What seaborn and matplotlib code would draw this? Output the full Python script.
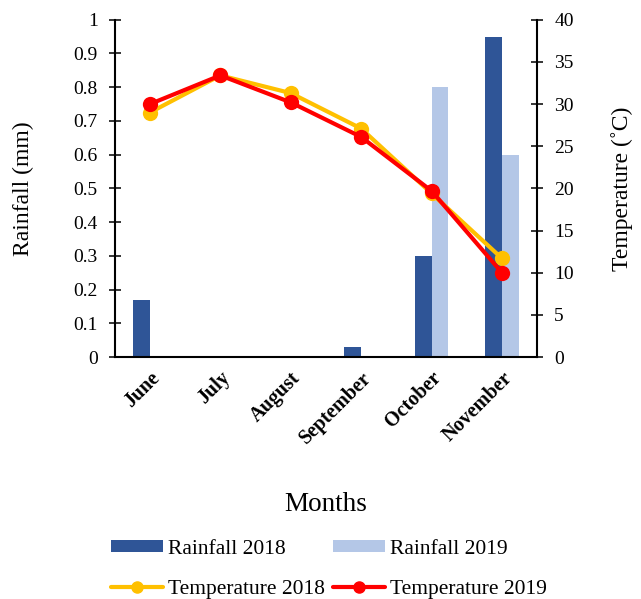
import numpy as np
import pandas as pd
import matplotlib
matplotlib.use("Agg")
import matplotlib.pyplot as plt
import seaborn as sns
from matplotlib.patches import Patch
from matplotlib.lines import Line2D

months = ["June", "July", "August", "September", "October", "November"]
rain_2018 = [0.17, 0.0, 0.0, 0.03, 0.30, 0.95]
rain_2019 = [0.0, 0.0, 0.0, 0.0, 0.80, 0.60]
temp_2018 = [29.0, 33.4, 31.3, 27.1, 19.4, 11.7]
temp_2019 = [30.0, 33.4, 30.2, 26.1, 19.7, 10.0]

sns.set_theme(style="white")
plt.rcParams['font.family'] = ['Liberation Serif', 'DejaVu Serif']
plt.rcParams.update({'text.color': 'black', 'axes.labelcolor': 'black',
                     'xtick.color': 'black', 'ytick.color': 'black'})

c_r18, c_r19 = "#2F5597", "#B4C7E7"
c_t18, c_t19 = "#FFC000", "#FF0000"

rain_df = pd.DataFrame({
    "Month": months * 2,
    "Rainfall": rain_2018 + rain_2019,
    "Series": ["Rainfall 2018"] * 6 + ["Rainfall 2019"] * 6,
})
temp_df = pd.DataFrame({
    "Month": months * 2,
    "Temp": temp_2018 + temp_2019,
    "Series": ["Temperature 2018"] * 6 + ["Temperature 2019"] * 6,
})

fig = plt.figure(figsize=(6.41, 5.99), dpi=100)
ax = fig.add_axes([0.179, 0.404, 0.659, 0.563])
sns.barplot(data=rain_df, x="Month", y="Rainfall", hue="Series", order=months,
            palette=[c_r18, c_r19], width=0.48, ax=ax, legend=False,
            edgecolor="none", saturation=1)
ax.set_ylim(0, 1)
ax.set_xlim(-0.5, 5.5)
ax.set_yticks(np.arange(0, 1.01, 0.1))
ax.set_yticklabels(["0"] + [f"{v:.1f}" for v in np.arange(0.1, 0.95, 0.1)] + ["1"])

ax2 = ax.twinx()
sns.lineplot(data=temp_df, x="Month", y="Temp", hue="Series",
             palette=[c_t18, c_t19], marker="o", markersize=11,
             markeredgewidth=0, linewidth=3, ax=ax2, legend=False, sort=False)
ax2.set_ylim(0, 40)
ax2.set_yticks(np.arange(0, 41, 5))
ax2.set_xlim(-0.5, 5.5)

for a in (ax, ax2):
    for s in a.spines.values():
        s.set_visible(False)
    a.grid(False)
ax.spines["left"].set_visible(True)
ax.spines["bottom"].set_visible(True)
ax2.spines["right"].set_visible(True)
for sp in (ax.spines["left"], ax.spines["bottom"], ax2.spines["right"]):
    sp.set_color("black")
    sp.set_linewidth(1.5)

ax.tick_params(axis="y", direction="inout", length=8.5, width=1.1, labelsize=14,
               colors="black", left=True, pad=8)
ax2.tick_params(axis="y", direction="inout", length=8.5, width=1.1, labelsize=14,
                colors="black", right=True, pad=8)
ax.tick_params(axis="x", length=0, labelsize=14.5, pad=8)
for lbl in ax.get_xticklabels():
    lbl.set_rotation(45)
    lbl.set_ha("right")
    lbl.set_rotation_mode("anchor")
    lbl.set_fontweight("bold")
ax2.set_xlabel("")
ax.set_xlabel("Months", fontsize=19.5, labelpad=32)
ax.set_ylabel("Rainfall (mm)", fontsize=17, labelpad=28)
ax2.set_ylabel("Temperature (˚C)", fontsize=17, labelpad=27)

handles = [
    Patch(facecolor=c_r18, edgecolor="none", label="Rainfall 2018"),
    Line2D([0], [0], color=c_t18, lw=3, marker="o", markersize=8, label="Temperature 2018"),
    Patch(facecolor=c_r19, edgecolor="none", label="Rainfall 2019"),
    Line2D([0], [0], color=c_t19, lw=3, marker="o", markersize=8, label="Temperature 2019"),
]
fig.legend(handles=handles, ncol=2, loc="center", bbox_to_anchor=(0.5125, 0.050),
           frameon=False, fontsize=15.5, handlelength=2.42, handleheight=0.47,
           handletextpad=0.23, columnspacing=0.37, labelspacing=0.98)

fig.savefig("out.png", dpi=100)
